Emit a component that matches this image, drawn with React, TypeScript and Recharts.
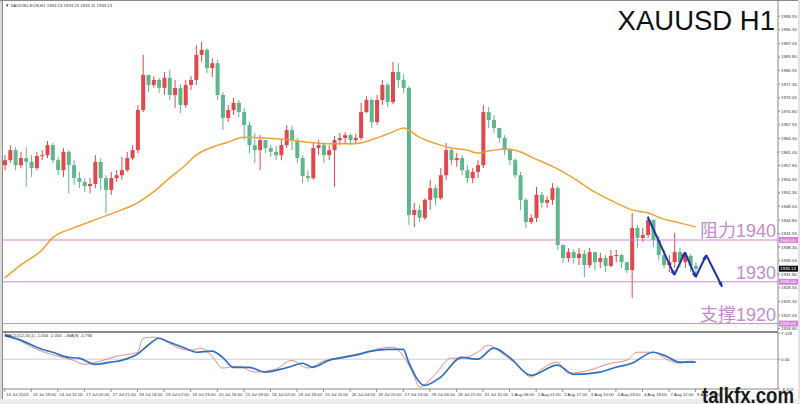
import React from 'react';
import { ComposedChart, LineChart, Bar, Line, XAxis, YAxis, ReferenceLine } from 'recharts';

const FONT = "'Liberation Sans', Arial, 'Noto Sans CJK SC', sans-serif";
const UP = '#e0484c';
const DOWN = '#5fb68c';
const PINK = '#d383d8';
const PINK_TEXT = '#c58bcc';
const ZIG = '#2233a0';

// H1 candles, each slot ~ 3.4 hours of the original chart
const firstOpen = 1957.9;
const closes = [
  1959.1, 1961.5, 1957.9, 1959.6, 1958.7, 1957.2, 1960.1, 1960.3, 1962.7, 1959.1,
  1956.7, 1961.1, 1957.9, 1954.8, 1953.9, 1952.9, 1953.4, 1958.7, 1954.8, 1952.0,
  1954.8, 1955.5, 1956.7, 1959.6, 1961.5, 1971.1, 1979.5, 1977.1, 1978.3, 1976.4,
  1978.8, 1974.7, 1976.4, 1972.3, 1977.1, 1978.3, 1984.3, 1985.5, 1981.1, 1982.3,
  1974.7, 1969.2, 1971.1, 1972.8, 1970.6, 1967.5, 1962.7, 1961.5, 1963.9, 1962.0,
  1961.1, 1960.3, 1962.7, 1966.3, 1963.9, 1959.6, 1955.3, 1954.8, 1962.0, 1962.7,
  1960.3, 1961.5, 1963.9, 1964.4, 1965.1, 1963.9, 1964.4, 1970.6, 1973.5, 1968.2,
  1973.5, 1977.1, 1973.0, 1980.2, 1978.3, 1976.4, 1946.0, 1947.2, 1945.3, 1949.6,
  1952.4, 1950.0, 1955.5, 1961.5, 1959.1, 1959.6, 1956.7, 1954.8, 1956.3, 1957.9,
  1970.6, 1968.7, 1966.8, 1964.4, 1961.5, 1959.1, 1955.5, 1949.6, 1944.3, 1945.3,
  1950.8, 1948.9, 1949.6, 1952.4, 1938.8, 1935.7, 1937.1, 1935.7, 1936.7, 1934.0,
  1937.1, 1934.7, 1935.7, 1933.8, 1936.2, 1936.4, 1934.7, 1932.8, 1942.9, 1940.5,
  1941.2, 1944.8, 1940.0, 1936.4, 1934.0, 1934.7, 1937.1, 1934.7, 1936.2, 1933.8,
  1933.13,
];
const highs = [
  1960.3, 1962.7, 1962.2, 1961.1, 1962.2, 1960.3, 1961.1, 1961.5, 1963.7, 1963.2,
  1959.9, 1962.0, 1961.5, 1959.1, 1956.3, 1954.8, 1954.8, 1960.3, 1959.6, 1955.5,
  1956.3, 1956.7, 1959.9, 1961.1, 1962.7, 1972.3, 1984.3, 1979.5, 1979.2, 1978.8,
  1980.2, 1980.7, 1978.3, 1977.3, 1978.3, 1979.2, 1986.6, 1987.4, 1985.9, 1983.5,
  1983.1, 1975.4, 1972.3, 1974.0, 1973.5, 1971.6, 1968.2, 1965.6, 1965.1, 1963.9,
  1962.7, 1962.5, 1963.9, 1967.5, 1967.3, 1964.4, 1960.3, 1956.7, 1963.2, 1963.9,
  1963.4, 1962.7, 1964.9, 1965.6, 1965.8, 1965.4, 1965.4, 1972.8, 1974.4, 1974.0,
  1974.7, 1978.3, 1977.6, 1982.6, 1982.3, 1979.7, 1976.8, 1948.9, 1948.4, 1950.0,
  1954.4, 1953.2, 1957.2, 1963.2, 1962.0, 1960.8, 1960.3, 1957.9, 1957.2, 1959.1,
  1972.3, 1971.8, 1969.9, 1966.8, 1965.1, 1962.0, 1959.6, 1956.3, 1950.0, 1946.2,
  1952.7, 1951.5, 1950.5, 1953.6, 1952.9, 1939.0, 1938.1, 1937.8, 1938.1, 1937.6,
  1938.1, 1937.1, 1936.9, 1936.4, 1937.6, 1937.6, 1936.7, 1934.7, 1946.5, 1943.6,
  1942.9, 1945.7, 1944.8, 1941.0, 1937.6, 1936.4, 1941.7, 1938.1, 1937.1, 1936.7,
  1934.7,
];
const lows = [
  1956.7, 1958.4, 1956.7, 1957.2, 1952.7, 1955.1, 1956.7, 1959.1, 1959.6, 1958.4,
  1955.5, 1955.1, 1951.2, 1953.2, 1952.4, 1951.5, 1951.2, 1952.4, 1952.0, 1946.5,
  1950.8, 1953.9, 1954.4, 1956.3, 1959.1, 1960.8, 1970.6, 1975.4, 1976.4, 1975.2,
  1974.7, 1973.5, 1971.6, 1970.4, 1971.6, 1975.9, 1977.1, 1982.6, 1979.9, 1979.0,
  1973.5, 1966.3, 1968.2, 1969.9, 1969.4, 1963.9, 1960.8, 1958.4, 1956.7, 1960.8,
  1959.9, 1959.1, 1959.1, 1962.0, 1961.5, 1958.4, 1953.6, 1953.9, 1954.4, 1960.3,
  1958.4, 1959.1, 1952.7, 1962.7, 1963.2, 1962.7, 1963.2, 1963.9, 1970.4, 1966.8,
  1967.5, 1972.3, 1971.8, 1972.5, 1976.4, 1975.2, 1943.6, 1943.1, 1944.3, 1944.8,
  1947.2, 1948.4, 1949.6, 1954.4, 1957.9, 1957.5, 1955.5, 1953.6, 1953.6, 1954.8,
  1957.2, 1966.8, 1965.6, 1963.2, 1960.3, 1957.9, 1954.8, 1947.2, 1942.9, 1943.8,
  1944.3, 1947.7, 1947.7, 1948.4, 1937.6, 1934.5, 1934.7, 1934.3, 1934.0, 1931.1,
  1933.3, 1932.8, 1933.3, 1932.3, 1933.5, 1934.7, 1933.3, 1932.1, 1926.1, 1938.1,
  1939.5, 1940.5, 1938.3, 1935.2, 1933.3, 1932.3, 1933.3, 1933.5, 1933.3, 1932.3,
  1931.9,
];

// orange moving average, read at these candle slots
const maIdx = [0, 3, 7, 9, 13, 18, 22, 25, 28, 31, 34, 36, 39, 42, 45, 49, 54, 57, 61, 65, 67, 70, 73, 75, 78, 82, 84, 87, 89, 91, 94, 97, 99, 104, 107, 111, 115, 118, 121, 124, 127, 130];
const maVals = [1930.9, 1934.0, 1937.6, 1940.5, 1942.9, 1945.3, 1947.2, 1948.9, 1951.5, 1954.8, 1957.9, 1960.3, 1962.2, 1963.4, 1964.6, 1964.4, 1963.9, 1963.4, 1963.0, 1963.0, 1963.2, 1964.4, 1965.8, 1966.8, 1964.6, 1962.7, 1962.0, 1961.5, 1960.8, 1961.3, 1961.8, 1961.1, 1959.9, 1957.0, 1954.8, 1951.5, 1948.9, 1947.2, 1946.5, 1945.0, 1944.1, 1943.1];

// MACD panel: [slot, value]
const macdLine: [number, number][] = [
  [0, 6.5], [3, 5.2], [7, 2.7], [9, 1.9], [12, 0.5], [14, 0.3], [17, -1.4], [20, -0.8], [22, -0.3], [25, 1.4],
  [27, 3.8], [29, 5.7], [31, 4.6], [34, 3.0], [36, 1.9], [39, 2.2], [41, 0.5], [43, -2.2], [46, -2.2], [49, -3.5],
  [52, -2.7], [54, -1.9], [56, -1.1], [58, -2.2], [61, -0.3], [63, 0.3], [66, 1.1], [69, 2.2], [72, 2.7], [75, 2.7],
  [76, -0.8], [79, -7.1], [82, -4.9], [86, 0.5], [89, 0], [92, 3.0], [95, 0.5], [99, -4.4], [104, -1.6], [107, -4.1],
  [112, -3.5], [115, -2.2], [118, -1.1], [122, 1.9], [124, 1.1], [127, -0.8], [130, -0.8],
];
const signalLine: [number, number][] = [
  [0, 7.0], [2, 5.7], [6, 2.7], [10, 0.8], [13, -0.3], [15, -1.4], [18, -0.5], [21, 0.8], [25, 1.9], [26, 5.7],
  [28, 6.0], [30, 5.2], [32, 3.5], [35, 2.4], [37, 3.0], [39, 0.8], [41, -2.4], [44, -1.9], [47, -3.5], [51, -2.7],
  [54, -0.3], [57, -2.4], [60, -0.5], [63, 0.5], [67, 1.6], [70, 2.7], [73, 3.3], [75, 0.8], [77, -4.4], [78, -7.6],
  [81, -4.1], [84, 0.3], [86, 0.3], [89, 1.9], [91, 3.8], [94, 1.1], [97, -2.2], [99, -4.9], [101, -2.7], [104, -0.8],
  [106, -3.8], [110, -3.0], [114, -1.1], [117, -0.3], [119, 1.9], [122, 1.9], [125, -0.3], [127, -1.1], [129, -0.5], [130, -0.8],
];

// blue zigzag projection
const zigIdx = [121, 126, 128, 130, 132, 135];
const zigPrice = [1945.5, 1931.6, 1937.1, 1931.1, 1936.4, 1928.8];

const levels = [
  { price: 1940, text: '阻力1940' },
  { price: 1930, text: '1930' },
  { price: 1920, text: '支撑1920' },
];

const priceTicks = [1993.55, 1990.3, 1987.05, 1983.8, 1980.55, 1977.3, 1974.05, 1970.8, 1967.55, 1964.3, 1961.05, 1957.8, 1954.55, 1951.3, 1948.05, 1944.8, 1941.55, 1938.3, 1935.05, 1931.8, 1928.55, 1925.3, 1922.05, 1918.8];
const macdTicks = [7.129, 0, -8.102];

const timeLabels = [
  '13 Jul 2023', '13 Jul 19:00', '14 Jul 12:00', '17 Jul 05:00', '17 Jul 21:00', '18 Jul 14:00', '19 Jul 07:00',
  '19 Jul 23:00', '20 Jul 16:00', '21 Jul 09:00', '24 Jul 02:00', '24 Jul 18:00', '25 Jul 11:00', '26 Jul 04:00',
  '26 Jul 20:00', '27 Jul 13:00', '28 Jul 06:00', '28 Jul 22:00', '31 Jul 15:00', '1 Aug 08:00', '2 Aug 01:00',
  '2 Aug 17:00', '3 Aug 10:00', '4 Aug 03:00', '4 Aug 19:00', '7 Aug 12:00', '8 Aug 05:00',
];

const SLOTS = 146;
const LABEL_STEP = 5;
const tickIdx = timeLabels.map((_, k) => k * LABEL_STEP);
const tickText = new Map(timeLabels.map((t, k) => [k * LABEL_STEP, t]));

const maMap = new Map(maIdx.map((k, n) => [k, maVals[n]]));
const macdMap = new Map(macdLine);
const sigMap = new Map(signalLine);

const rows = Array.from({ length: SLOTS }, (_, i) => {
  if (i >= closes.length) return { i };
  const o = i === 0 ? firstOpen : closes[i - 1];
  const c = closes[i];
  const h = Math.max(highs[i], o, c);
  const l = Math.min(lows[i], o, c);
  return { i, o, c, h, l, range: [l, h], ma: maMap.get(i) ?? null };
});

const macdRows = Array.from({ length: SLOTS }, (_, i) => ({
  i,
  macd: macdMap.get(i) ?? null,
  sig: sigMap.get(i) ?? null,
}));

const lastClose = closes[closes.length - 1];

const Candle = (props: any) => {
  const { x, y, width, height, payload } = props;
  if (!payload || payload.c == null || !isFinite(y)) return null;
  const top = Math.min(y, y + height);
  const span = Math.abs(height);
  const { o, c, h, l } = payload;
  const k = h === l ? 0 : span / (h - l);
  const yo = top + (h - o) * k;
  const yc = top + (h - c) * k;
  const color = c >= o ? UP : DOWN;
  const cx = x + width / 2;
  return (
    <g>
      <line x1={cx} x2={cx} y1={top} y2={top + span} stroke={color} strokeWidth={1} />
      <rect x={x} y={Math.min(yo, yc)} width={width} height={Math.max(1, Math.abs(yo - yc))} fill={color} />
    </g>
  );
};

const ZigSeg = (props: any) => {
  const { x1, y1, x2, y2 } = props;
  if (![x1, y1, x2, y2].every((v) => isFinite(v))) return null;
  const a = Math.atan2(y2 - y1, x2 - x1);
  const s = 5;
  const pA = [x2 - s * Math.cos(a - 0.45), y2 - s * Math.sin(a - 0.45)];
  const pB = [x2 - s * Math.cos(a + 0.45), y2 - s * Math.sin(a + 0.45)];
  return (
    <g>
      <line x1={x1} y1={y1} x2={x2} y2={y2} stroke={ZIG} strokeWidth={2} />
      <polygon points={`${x2},${y2} ${pA[0]},${pA[1]} ${pB[0]},${pB[1]}`} fill={ZIG} />
    </g>
  );
};

const levelLabel = (text: string, price: number) => (props: any) => {
  const { x, y, width } = props.viewBox;
  return (
    <g>
      <text x={x + width - 2} y={y - 3} textAnchor="end" fontSize={18} fill={PINK_TEXT} fontFamily={FONT}>
        {text}
      </text>
      <rect x={x + width + 1} y={y - 3} width={20} height={6} fill={PINK} />
      <text x={x + width + 2} y={y + 1.6} fontSize={4.4} fill="#fff" fontFamily={FONT}>
        {price.toFixed(2)}
      </text>
    </g>
  );
};

const priceLabel = (props: any) => {
  const { x, y, width } = props.viewBox;
  return (
    <g>
      <rect x={x + width + 1} y={y - 3} width={20} height={6} fill="#111" />
      <text x={x + width + 2} y={y + 1.6} fontSize={4.4} fill="#fff" fontFamily={FONT}>
        {lastClose.toFixed(2)}
      </text>
    </g>
  );
};

const TimeTick = (props: any) => {
  const { x, y, payload } = props;
  const label = tickText.get(payload.value);
  if (!label) return null;
  return (
    <g>
      <line x1={x} x2={x} y1={y} y2={y + 3} stroke="#777" strokeWidth={0.8} />
      <text x={x + 1.5} y={y + 7} fontSize={4.3} fill="#333" fontFamily={FONT}>
        {label}
      </text>
    </g>
  );
};

export default function App() {
  return (
    <div style={{ position: 'absolute', left: 0, top: 0, width: 800, height: 404, background: '#fff', overflow: 'hidden', fontFamily: FONT }}>
      <div style={{ position: 'absolute', left: 0, top: 0 }}>
        <ComposedChart width={800} height={331} data={rows} margin={{ top: 1, right: 0, bottom: 0, left: 2 }}>
          <XAxis dataKey="i" type="category" hide />
          <YAxis
            orientation="right"
            width={22}
            domain={[1918.23, 1997.18]}
            allowDataOverflow
            ticks={priceTicks}
            interval={0}
            tickFormatter={(v: number) => v.toFixed(2)}
            tick={{ fontSize: 4.4, fill: '#333', fontFamily: FONT }}
            tickSize={2}
            tickMargin={1}
            axisLine={{ stroke: '#888' }}
            tickLine={{ stroke: '#888' }}
          />
          {levels.map((lv) => (
            <ReferenceLine key={lv.price} y={lv.price} stroke={PINK} strokeWidth={1} label={levelLabel(lv.text, lv.price)} />
          ))}
          <ReferenceLine y={lastClose} stroke="transparent" label={priceLabel} />
          <Bar dataKey="range" barSize={4} shape={<Candle />} isAnimationActive={false} />
          <Line dataKey="ma" type="monotone" stroke="#f0a232" strokeWidth={1.5} dot={false} connectNulls isAnimationActive={false} />
          {zigIdx.slice(1).map((xi, n) => (
            <ReferenceLine
              key={xi}
              segment={[
                { x: zigIdx[n], y: zigPrice[n] },
                { x: xi, y: zigPrice[n + 1] },
              ]}
              shape={ZigSeg}
            />
          ))}
        </ComposedChart>
      </div>

      <div style={{ position: 'absolute', left: 0, top: 331, width: 778, height: 2, background: '#8a8a8a' }} />

      <div style={{ position: 'absolute', left: 0, top: 332 }}>
        <LineChart width={800} height={67} data={macdRows} margin={{ top: 1, right: 0, bottom: 0, left: 2 }}>
          <XAxis
            dataKey="i"
            type="category"
            scale="band"
            ticks={tickIdx}
            interval={0}
            height={10}
            tickSize={0}
            tickMargin={0}
            tickLine={false}
            axisLine={{ stroke: '#888' }}
            tick={<TimeTick />}
          />
          <YAxis
            orientation="right"
            width={22}
            domain={[-8.102, 7.129]}
            allowDataOverflow
            ticks={macdTicks}
            interval={0}
            tickFormatter={(v: number) => (v === 0 ? '0.00' : String(v))}
            tick={{ fontSize: 4.4, fill: '#333', fontFamily: FONT }}
            tickSize={2}
            tickMargin={1}
            axisLine={{ stroke: '#888' }}
            tickLine={{ stroke: '#888' }}
          />
          <ReferenceLine y={0} stroke="#cfcfcf" />
          <Line dataKey="sig" type="monotone" stroke="#ef7b6c" strokeWidth={0.9} dot={false} connectNulls isAnimationActive={false} />
          <Line dataKey="macd" type="monotone" stroke="#2f6fc4" strokeWidth={1.7} dot={false} connectNulls isAnimationActive={false} />
        </LineChart>
      </div>

      <div style={{ position: 'absolute', left: 0, top: 0, width: 3, height: 404, background: '#d9d9d9' }} />
      <div style={{ position: 'absolute', left: 2, top: 0, width: 1, height: 399, background: '#8a8a8a' }} />
      <div style={{ position: 'absolute', left: 0, top: 0, width: 800, height: 1, background: '#8a8a8a' }} />
      <div style={{ position: 'absolute', left: 798, top: 0, width: 2, height: 404, background: '#e2e2e2' }} />
      <div style={{ position: 'absolute', left: 0, top: 399, width: 800, height: 5, background: '#ececec' }} />

      <svg width={800} height={404} style={{ position: 'absolute', left: 0, top: 0, pointerEvents: 'none' }}>
        <text x={5} y={6.8} fontSize={4.3} fill="#333" fontFamily={FONT}>
          ▼ XAUUSD-ECN,H1  1933.13 1933.23 1933.11 1933.13
        </text>
        <text x={5} y={337} fontSize={4.3} fill="#333" fontFamily={FONT}>
          MACD(12,26,1) -1.056 -1.056 →MA(9) -0.794
        </text>
        <text x={775} y={30} textAnchor="end" fontSize={27.5} fill="#111" fontFamily={FONT}>
          XAUUSD H1
        </text>
        <text x={702} y={403} fontSize={22} fontWeight="bold" fill="#1a1a1a" fontFamily={FONT} textLength={92} lengthAdjust="spacingAndGlyphs">
          talkfx.com
        </text>
      </svg>
    </div>
  );
}
